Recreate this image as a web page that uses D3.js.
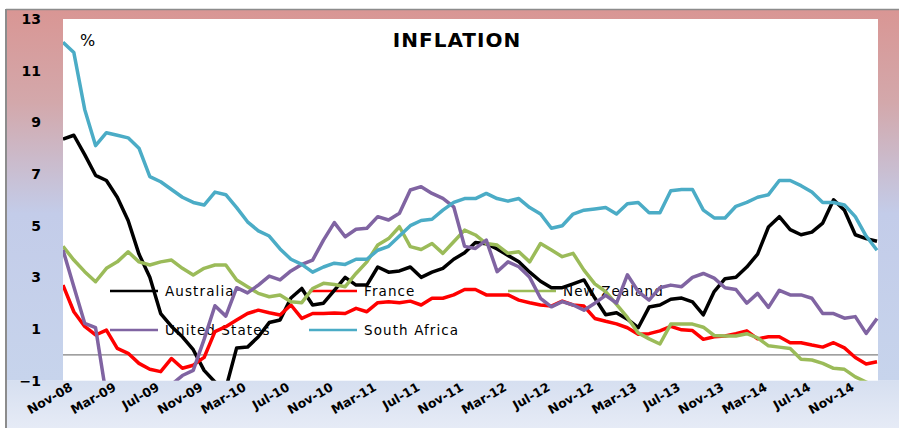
<!DOCTYPE html>
<html>
<head>
<meta charset="utf-8">
<script src="https://cdnjs.cloudflare.com/ajax/libs/d3/7.8.5/d3.min.js"></script>
<style>
  body { margin: 0; background: #ffffff; }
  svg { display: block; font-family: "DejaVu Sans", sans-serif; }
</style>
</head>
<body>
<div id="chart"></div>
<script>
// monthly inflation, Nov-08 .. Feb-15
var tickLabels = ["Nov-08", "Mar-09", "Jul-09", "Nov-09", "Mar-10", "Jul-10", "Nov-10",
    "Mar-11", "Jul-11", "Nov-11", "Mar-12", "Jul-12", "Nov-12", "Mar-13", "Jul-13",
    "Nov-13", "Mar-14", "Jul-14", "Nov-14"];
var yTicks = [-1, 1, 3, 5, 7, 9, 11, 13];

var australia = [8.35, 8.5, 7.75, 6.95, 6.75, 6.1, 5.2, 3.9, 3.0, 1.6,
    1.1, 0.7, 0.2, -0.6, -1.05, -1.3, 0.27, 0.3, 0.7, 1.25,
    1.35, 2.2, 2.57, 1.93, 2.0, 2.5, 3.0, 2.7, 2.7, 3.4,
    3.2, 3.25, 3.4, 3.0, 3.2, 3.35, 3.7, 3.95, 4.35, 4.3,
    4.1, 3.85, 3.6, 3.2, 2.85, 2.6, 2.6, 2.75, 2.9, 2.2,
    1.55, 1.63, 1.38, 1.05, 1.85, 1.93, 2.15, 2.2, 2.05, 1.55,
    2.45, 2.95, 3.0, 3.4, 3.9, 4.95, 5.35, 4.85, 4.65, 4.75,
    5.1, 6.0, 5.6, 4.65, 4.5, 4.4];
var france = [2.7, 1.67, 1.1, 0.77, 0.96, 0.25, 0.06, -0.33, -0.56, -0.65,
    -0.14, -0.52, -0.4, -0.1, 0.9, 1.09, 1.35, 1.6, 1.73, 1.63,
    1.54, 1.93, 1.41, 1.6, 1.6, 1.62, 1.6, 1.8, 1.67, 2.02,
    2.06, 2.02, 2.08, 1.93, 2.19, 2.19, 2.32, 2.53, 2.53, 2.32,
    2.32, 2.32, 2.12, 2.02, 1.93, 1.89, 2.08, 1.93, 1.89, 1.41,
    1.3, 1.2, 1.05, 0.8, 0.82, 0.93, 1.1, 0.97, 0.94, 0.6,
    0.7, 0.73, 0.82, 0.93, 0.62, 0.7, 0.7, 0.47, 0.47, 0.38,
    0.3, 0.47, 0.27, -0.1, -0.35, -0.27];
var newZealand = [4.2, 3.67, 3.22, 2.83, 3.35, 3.6, 3.99, 3.6, 3.48, 3.6,
    3.67, 3.35, 3.09, 3.35, 3.48, 3.48, 2.9, 2.64, 2.38, 2.25,
    2.32, 2.06, 2.02, 2.57, 2.77, 2.72, 2.64, 3.15, 3.6, 4.25,
    4.5, 4.96, 4.19, 4.08, 4.31, 3.93, 4.38, 4.83, 4.64, 4.31,
    4.25, 3.93, 3.99, 3.6, 4.31, 4.06, 3.8, 3.93, 3.28, 2.75,
    2.45, 1.95, 1.45, 0.85, 0.62, 0.42, 1.19, 1.19, 1.19, 1.07,
    0.75, 0.73, 0.73, 0.82, 0.66, 0.35, 0.3, 0.25, -0.17, -0.2,
    -0.33, -0.52, -0.56, -0.85, -1.05, -1.3];
var unitedStates = [4.06, 2.64, 1.22, 1.05, -1.6, -1.8, -2.0, -2.1, -2.0, -1.6,
    -1.15, -0.8, -0.6, 0.6, 1.9, 1.5, 2.6, 2.4, 2.7, 3.05,
    2.9, 3.25, 3.5, 3.67, 4.44, 5.12, 4.57, 4.86, 4.9, 5.35,
    5.22, 5.48, 6.38, 6.51, 6.25, 6.06, 5.73, 4.2, 4.12, 4.44,
    3.22, 3.6, 3.41, 3.0, 2.19, 1.86, 2.06, 1.93, 1.73, 2.0,
    2.3, 2.0, 3.1, 2.45, 2.12, 2.6, 2.7, 2.64, 3.0, 3.15,
    2.97, 2.6, 2.53, 2.0, 2.38, 1.84, 2.5, 2.32, 2.32, 2.19,
    1.6, 1.6, 1.42, 1.48, 0.83, 1.41];
var southAfrica = [12.1, 11.7, 9.5, 8.1, 8.6, 8.5, 8.4, 8.0, 6.9, 6.7,
    6.4, 6.1, 5.9, 5.8, 6.3, 6.2, 5.7, 5.15, 4.8, 4.6,
    4.1, 3.7, 3.5, 3.2, 3.4, 3.55, 3.5, 3.7, 3.7, 4.05,
    4.2, 4.6, 5.0, 5.2, 5.25, 5.6, 5.9, 6.05, 6.05, 6.25,
    6.05, 5.95, 6.05, 5.7, 5.45, 4.9, 5.0, 5.45, 5.6, 5.65,
    5.7, 5.45, 5.85, 5.9, 5.5, 5.5, 6.35, 6.4, 6.4, 5.6,
    5.3, 5.3, 5.75, 5.9, 6.1, 6.2, 6.75, 6.75, 6.55, 6.3,
    5.9, 5.9, 5.8, 5.35, 4.6, 4.05];

var fmt = d3.timeFormat("%b-%y");
var months = d3.timeMonth.range(new Date(2008, 10, 1), new Date(2015, 2, 1)).map(fmt);

var series = [
    { name: "Australia", values: australia, color: "#000000" },
    { name: "France", values: france, color: "#ff0000" },
    { name: "New Zealand", values: newZealand, color: "#9bbb59" },
    { name: "United States", values: unitedStates, color: "#8064a2" },
    { name: "South Africa", values: southAfrica, color: "#4bacc6" }
];

var W = 899, H = 428;
var plot = { left: 63, right: 877, top: 19, bottom: 380.7 };

var svg = d3.select("#chart")
    .append("svg")
    .attr("width", W)
    .attr("height", H);

var defs = svg.append("defs");
var g1 = defs.append("linearGradient")
    .attr("id", "bgTop").attr("x1", 0).attr("y1", 0).attr("x2", 0).attr("y2", 1);
g1.append("stop").attr("offset", "0%").attr("stop-color", "#d99694");
g1.append("stop").attr("offset", "25%").attr("stop-color", "#d3a8ab");
g1.append("stop").attr("offset", "55%").attr("stop-color", "#c3cce9");
g1.append("stop").attr("offset", "100%").attr("stop-color", "#c7d4ec");
var g2 = defs.append("linearGradient")
    .attr("id", "bgBottom").attr("x1", 0).attr("y1", 0).attr("x2", 0).attr("y2", 1);
g2.append("stop").attr("offset", "0%").attr("stop-color", "#d6dff0");
g2.append("stop").attr("offset", "100%").attr("stop-color", "#e6ebf6");

defs.append("clipPath").attr("id", "plotClip")
    .append("rect")
    .attr("x", plot.left)
    .attr("y", plot.top)
    .attr("width", W - plot.left)
    .attr("height", plot.bottom - plot.top);

// chart background + frame
svg.append("rect").attr("x", 7).attr("y", 10).attr("width", W - 7).attr("height", plot.bottom - 10)
    .attr("fill", "url(#bgTop)");
svg.append("rect").attr("x", 7).attr("y", plot.bottom).attr("width", W - 7).attr("height", H - plot.bottom)
    .attr("fill", "url(#bgBottom)");
svg.append("line").attr("x1", 6).attr("x2", W).attr("y1", 9.5).attr("y2", 9.5)
    .attr("stroke", "#8c8c8c").attr("stroke-width", 1.5);
svg.append("line").attr("x1", 6).attr("x2", 6).attr("y1", 9).attr("y2", H)
    .attr("stroke", "#8c8c8c").attr("stroke-width", 2);

// plot area
svg.append("rect")
    .attr("x", plot.left).attr("y", plot.top)
    .attr("width", 878 - plot.left).attr("height", plot.bottom - plot.top)
    .attr("fill", "#ffffff");

var x = d3.scalePoint().domain(months).range([plot.left, plot.right]);
var y = d3.scaleLinear().domain([-1, 13]).range([plot.bottom, plot.top]);

// zero line
svg.append("line")
    .attr("x1", plot.left).attr("x2", 878)
    .attr("y1", y(0)).attr("y2", y(0))
    .attr("stroke", "#808080").attr("stroke-width", 1.2);

// y axis
var yAxis = svg.append("g")
    .attr("transform", "translate(44,0)")
    .call(d3.axisLeft(y).tickValues(yTicks).tickSize(0).tickPadding(3));
yAxis.select(".domain").remove();
yAxis.selectAll("text")
    .style("font-size", "14px")
    .style("font-weight", "bold")
    .style("font-family", "DejaVu Sans, sans-serif")
    .attr("fill", "#000");

// x axis
var xAxis = svg.append("g")
    .attr("transform", "translate(0," + plot.bottom + ")")
    .call(d3.axisBottom(x).tickValues(tickLabels).tickSize(0));
xAxis.select(".domain").remove();
xAxis.selectAll("text")
    .attr("x", 0).attr("y", 0).attr("dy", 0)
    .attr("text-anchor", "end")
    .attr("transform", "translate(10,9) rotate(-30)")
    .style("font-size", "12.5px")
    .style("font-weight", "bold")
    .style("font-family", "DejaVu Sans, sans-serif")
    .attr("fill", "#000");

// title and unit
svg.append("text")
    .attr("x", 457).attr("y", 47)
    .attr("text-anchor", "middle")
    .style("font-size", "20px")
    .style("font-weight", "bold")
    .style("letter-spacing", "1px")
    .text("INFLATION");
svg.append("text")
    .attr("x", 80).attr("y", 46)
    .style("font-size", "16px")
    .text("%");

// legend (lines are drawn over it, as in the original)
var legend = svg.append("g")
    .selectAll("g")
    .data(series)
    .enter()
    .append("g")
    .attr("transform", function (d, i) {
        return "translate(" + (110 + (i % 3) * 199) + "," + (291 + Math.floor(i / 3) * 39) + ")";
    });
legend.append("line")
    .attr("x1", 0).attr("x2", 48)
    .attr("stroke", function (d) { return d.color; })
    .attr("stroke-width", 2.5);
legend.append("text")
    .attr("x", 55)
    .attr("dy", "0.36em")
    .style("font-size", "13.5px")
    .style("letter-spacing", "1.1px")
    .text(function (d) { return d.name; });

// series lines
var line = d3.line()
    .x(function (d, i) { return x(months[i]); })
    .y(function (d) { return y(d); });

svg.append("g")
    .attr("clip-path", "url(#plotClip)")
    .selectAll("path")
    .data(series)
    .enter()
    .append("path")
    .attr("d", function (d) { return line(d.values); })
    .attr("fill", "none")
    .attr("stroke", function (d) { return d.color; })
    .attr("stroke-width", 3.5)
    .attr("stroke-linejoin", "round");
</script>
</body>
</html>
